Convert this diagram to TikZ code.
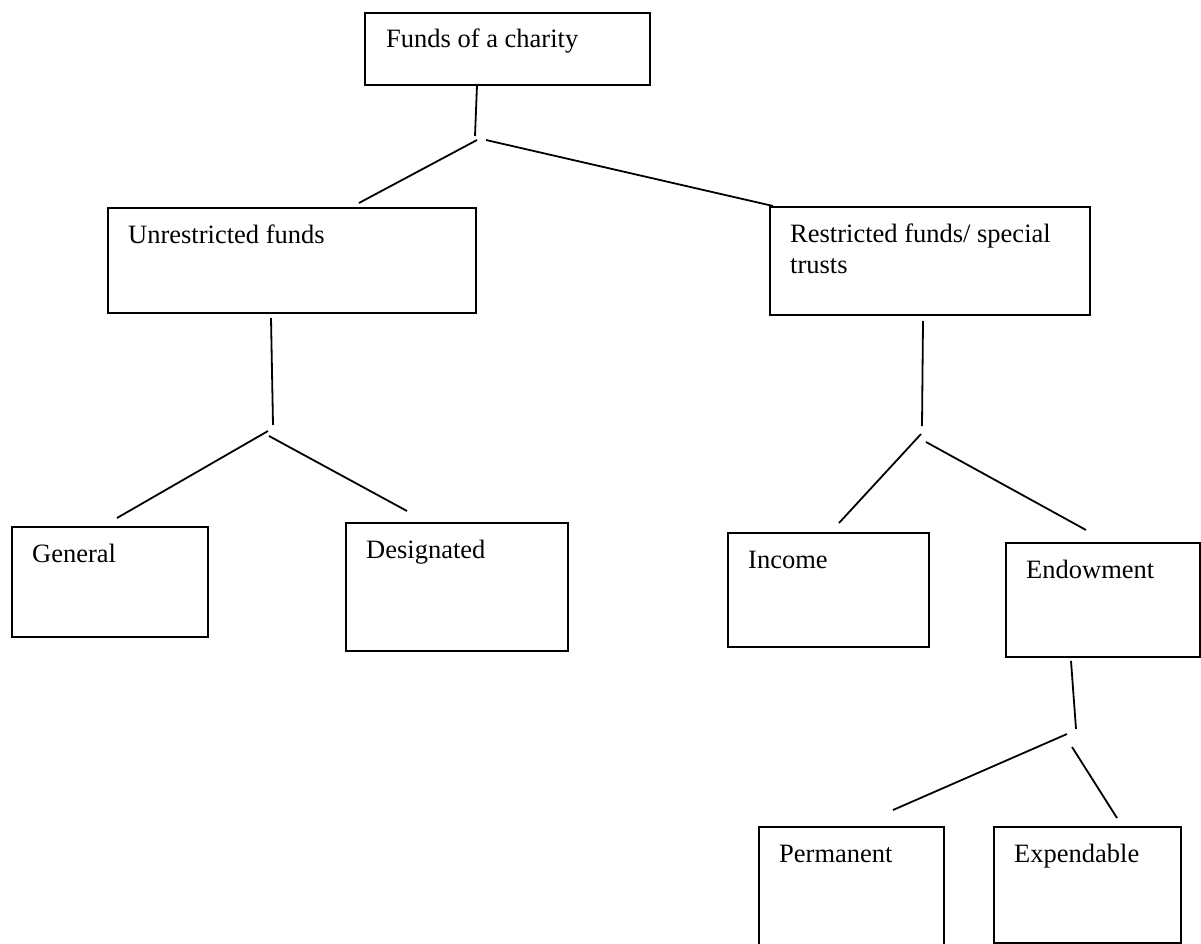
\documentclass[tikz,border=0pt]{standalone}
\usepackage{fontspec}
\setmainfont{Liberation Serif}
\begin{document}
\begin{tikzpicture}[x=1pt,y=-1pt,
  box/.style={draw=black, line width=2pt, rectangle, inner sep=0pt, anchor=north west},
  lbl/.style={anchor=base west, inner sep=0pt, font=\fontsize{26.5}{31}\selectfont},
  conn/.style={draw=black, line width=1.8pt}]
\useasboundingbox (0,0) rectangle (1201,944);
\begin{scope}
\clip (0,0) rectangle (1201,944);
% boxes
\node[box, minimum width=285pt, minimum height=72pt] (charity) at (364,12) {};
\node[box, minimum width=368pt, minimum height=105pt] (unres) at (107,207) {};
\node[box, minimum width=320pt, minimum height=108pt] (res) at (769,206) {};
\node[box, minimum width=196pt, minimum height=110pt] (general) at (11,526) {};
\node[box, minimum width=222pt, minimum height=128pt] (desig) at (345,522) {};
\node[box, minimum width=201pt, minimum height=114pt] (income) at (727,532) {};
\node[box, minimum width=194pt, minimum height=114pt] (endow) at (1005,542) {};
\node[box, minimum width=185pt, minimum height=140pt] (perm) at (758,826) {};
\node[box, minimum width=187pt, minimum height=116pt] (expend) at (993,826) {};
% labels
\node[lbl] (tcharity) at (386,48) {Funds of a charity};
\node[lbl] (tunres) at (128,243) {Unrestricted funds};
\node[lbl] (tres1) at (790,242) {Restricted funds/ special};
\node[lbl] (tres2) at (790,273) {trusts};
\node[lbl] (tgeneral) at (32,562) {General};
\node[lbl] (tdesig) at (366,558) {Designated};
\node[lbl] (tincome) at (748,568) {Income};
\node[lbl] (tendow) at (1026,578) {Endowment};
\node[lbl] (tperm) at (779,862) {Permanent};
\node[lbl] (texpend) at (1014,862) {Expendable};
% connector points
\coordinate (a1) at (477,85);  \coordinate (a2) at (475,136);
\coordinate (a3) at (477,140); \coordinate (a4) at (359,203);
\coordinate (a5) at (486,140); \coordinate (a6) at (773,206);
\coordinate (b1) at (271,318); \coordinate (b2) at (273,425);
\coordinate (b3) at (268,431); \coordinate (b4) at (117,518);
\coordinate (b5) at (269,436); \coordinate (b6) at (407,511);
\coordinate (c1) at (923,321); \coordinate (c2) at (922,426);
\coordinate (c3) at (921,434); \coordinate (c4) at (839,523);
\coordinate (c5) at (926,442); \coordinate (c6) at (1086,530);
\coordinate (d1) at (1071,661); \coordinate (d2) at (1076,729);
\coordinate (d3) at (1067,734); \coordinate (d4) at (893,810);
\coordinate (d5) at (1072,747); \coordinate (d6) at (1117,818);
\draw[conn] (a1) -- (a2);
\draw[conn] (a3) -- (a4);
\draw[conn] (a5) -- (a6);
\draw[conn] (b1) -- (b2);
\draw[conn] (b3) -- (b4);
\draw[conn] (b5) -- (b6);
\draw[conn] (c1) -- (c2);
\draw[conn] (c3) -- (c4);
\draw[conn] (c5) -- (c6);
\draw[conn] (d1) -- (d2);
\draw[conn] (d3) -- (d4);
\draw[conn] (d5) -- (d6);
\end{scope}
\end{tikzpicture}
\end{document}
